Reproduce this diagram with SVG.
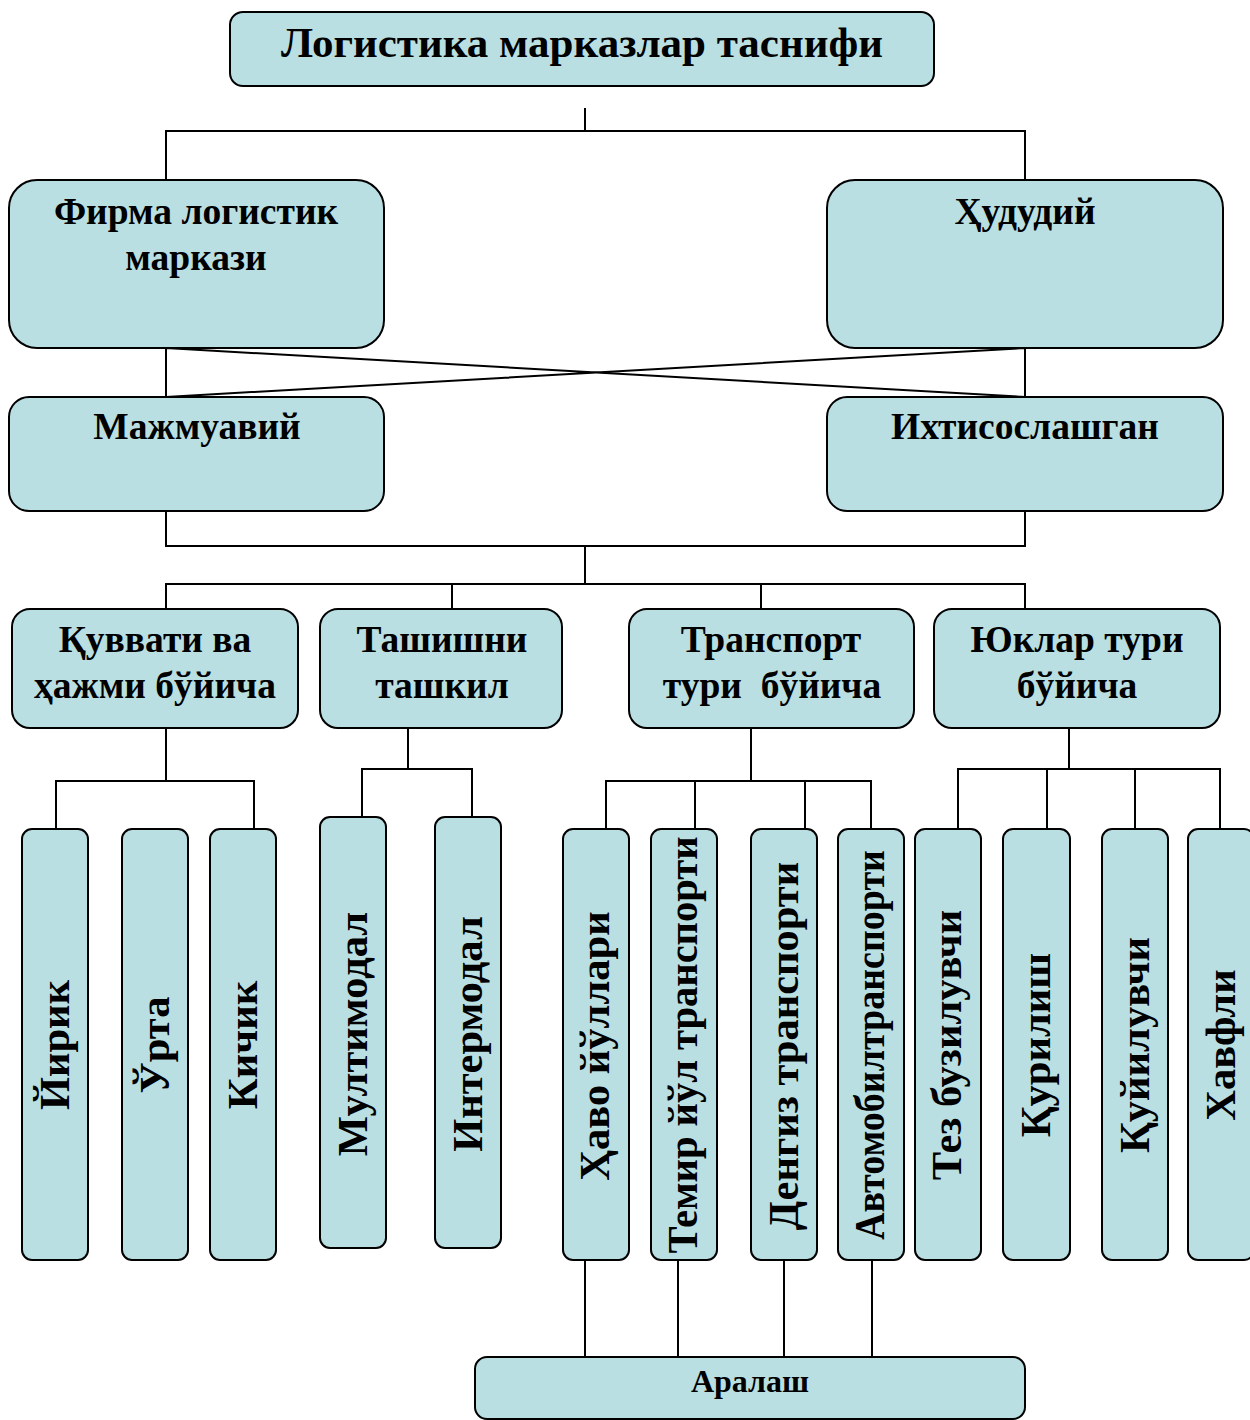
<svg xmlns="http://www.w3.org/2000/svg" width="1250" height="1420" viewBox="0 0 1250 1420">
<style>
.box{fill:#b9dfe2;stroke:#000;stroke-width:2}
.t{font-family:"Liberation Serif","Times New Roman",serif;font-weight:bold;fill:#000;text-anchor:middle}
.t36{font-size:37.5px}
.v{font-size:42.5px}
.c{fill:none;stroke:#000;stroke-width:2}
</style>
<rect width="1250" height="1420" fill="#fff"/>
<g id="connectors">
<path class="c" d="M585 108V131M166 180V131H1025V180"/>
<path class="c" d="M166 348V397M1025 348V397M166 348L1025 397M1025 348L166 397"/>
<path class="c" d="M166 511V546H1025V511M585 546V584M166 609V584H1025V609M452 584V609M761 584V609"/>
<path class="c" d="M166 728V781M56 829V781H254V829"/>
<path class="c" d="M408 728V769M362 817V769H472V817"/>
<path class="c" d="M751 728V781M606 829V781H871V829M695 781V829M805 781V829"/>
<path class="c" d="M1069 728V769M958 829V769H1220V829M1047 769V829M1135 769V829"/>
<path class="c" d="M585 1260V1357M678 1260V1357M784 1260V1357M872 1260V1357"/>
</g>
<g id="title"><rect class="box" x="230" y="12" width="704" height="74" rx="13"/><text class="t" x="582" y="57" font-size="43">Логистика марказлар таснифи</text></g>
<g id="firma"><rect class="box" x="9" y="180" width="375" height="168" rx="28"/><text class="t t36" x="196" y="224">Фирма логистик</text><text class="t t36" x="196" y="270">маркази</text></g>
<g id="hududiy"><rect class="box" x="827" y="180" width="396" height="168" rx="28"/><text class="t t36" x="1025" y="224">Ҳудудий</text></g>
<g id="majmuaviy"><rect class="box" x="9" y="397" width="375" height="114" rx="20"/><text class="t t36" x="197" y="439">Мажмуавий</text></g>
<g id="ihtisos"><rect class="box" x="827" y="397" width="396" height="114" rx="20"/><text class="t t36" x="1025" y="439">Ихтисослашган</text></g>
<g id="quvvati"><rect class="box" x="12" y="609" width="286" height="119" rx="18"/><text class="t t36" x="155" y="652">Қуввати ва</text><text class="t t36" x="155" y="698">ҳажми бўйича</text></g>
<g id="tashish"><rect class="box" x="320" y="609" width="242" height="119" rx="18"/><text class="t t36" x="442" y="652">Ташишни</text><text class="t t36" x="442" y="698">ташкил</text></g>
<g id="transport"><rect class="box" x="629" y="609" width="285" height="119" rx="18"/><text class="t t36" x="771" y="652">Транспорт</text><text class="t t36" x="772" y="698" xml:space="preserve">тури  бўйича</text></g>
<g id="yuklar"><rect class="box" x="934" y="609" width="286" height="119" rx="18"/><text class="t t36" x="1077" y="652">Юклар тури</text><text class="t t36" x="1077" y="698">бўйича</text></g>
<g id="yirik"><rect class="box" x="22" y="829" width="66" height="431" rx="10"/><text class="t v" transform="translate(69 1045) rotate(-90)">Йирик</text></g>
<g id="urta"><rect class="box" x="122" y="829" width="66" height="431" rx="10"/><text class="t v" transform="translate(169 1045) rotate(-90)">Ўрта</text></g>
<g id="kichik"><rect class="box" x="210" y="829" width="66" height="431" rx="10"/><text class="t v" transform="translate(257 1045) rotate(-90)">Кичик</text></g>
<g id="multi"><rect class="box" x="320" y="817" width="66" height="431" rx="10"/><text class="t v" transform="translate(367 1034) rotate(-90)">Мултимодал</text></g>
<g id="inter"><rect class="box" x="435" y="817" width="66" height="431" rx="10"/><text class="t v" transform="translate(482 1034) rotate(-90)">Интермодал</text></g>
<g id="havo"><rect class="box" x="563" y="829" width="66" height="431" rx="10"/><text class="t v" transform="translate(609 1046) rotate(-90)">Ҳаво йўллари</text></g>
<g id="temir"><rect class="box" x="651" y="829" width="66" height="431" rx="10"/><text class="t v" transform="translate(697 1045) rotate(-90)" textLength="417" lengthAdjust="spacingAndGlyphs">Темир йўл транспорти</text></g>
<g id="dengiz"><rect class="box" x="751" y="829" width="66" height="431" rx="10"/><text class="t v" transform="translate(798 1046) rotate(-90)">Денгиз транспорти</text></g>
<g id="avto"><rect class="box" x="838" y="829" width="66" height="431" rx="10"/><text class="t v" transform="translate(884 1045) rotate(-90)" textLength="390" lengthAdjust="spacingAndGlyphs">Автомобилтранспорти</text></g>
<g id="tez"><rect class="box" x="915" y="829" width="66" height="431" rx="10"/><text class="t v" transform="translate(961 1045) rotate(-90)">Тез бузилувчи</text></g>
<g id="qurilish"><rect class="box" x="1003" y="829" width="67" height="431" rx="10"/><text class="t v" transform="translate(1050 1045) rotate(-90)">Қурилиш</text></g>
<g id="quyiluvchi"><rect class="box" x="1102" y="829" width="66" height="431" rx="10"/><text class="t v" transform="translate(1149 1045) rotate(-90)">Қуйилувчи</text></g>
<g id="xavfli"><rect class="box" x="1188" y="829" width="66" height="431" rx="10"/><text class="t v" transform="translate(1235 1045) rotate(-90)">Хавфли</text></g>
<g id="aralash"><rect class="box" x="475" y="1357" width="550" height="62" rx="12"/><text class="t" x="750" y="1392" font-size="32">Аралаш</text></g>
</svg>
